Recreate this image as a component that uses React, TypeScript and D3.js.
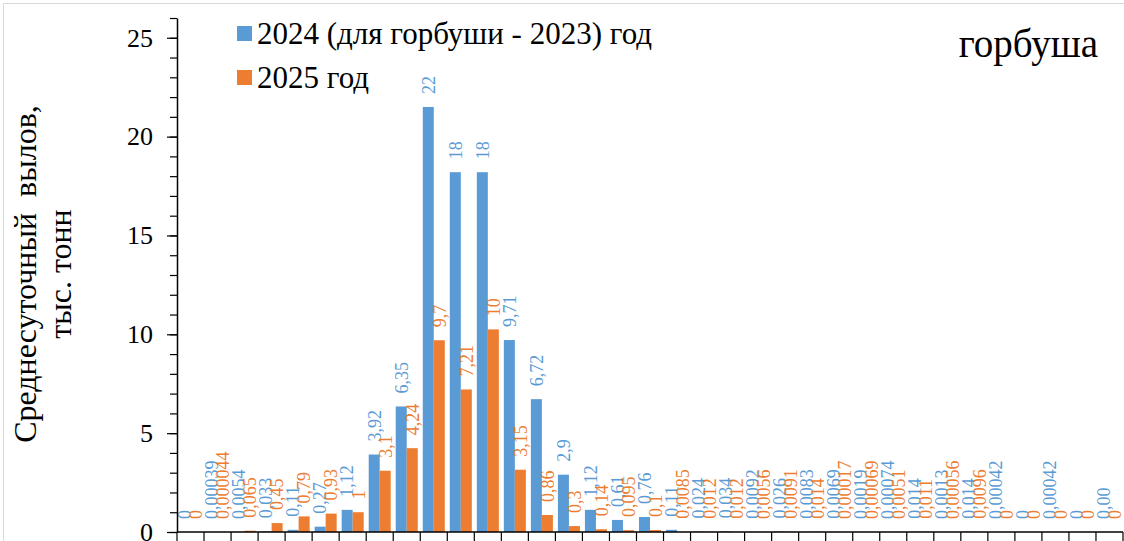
import React, { useEffect, useRef } from 'react';
import * as d3 from 'd3';

const categories = ['1', '2', '3', '4', '5', '6', '7', '8', '9', '10', '11', '12', '13', '14', '15', '16', '17', '18', '19', '20', '21', '22', '23', '24', '25', '26', '27', '28', '29', '30', '31', '32', '33', '34', '35'];

// 2024 (for pink salmon - 2023)
const values2024 = [0, 0.00039, 0.0054, 0.033, 0.11, 0.27, 1.12, 3.92, 6.35, 21.5, 18.2, 18.2, 9.71, 6.72, 2.9, 1.12, 0.61, 0.76, 0.11, 0.024, 0.034, 0.0092, 0.026, 0.0083, 0.0069, 0.0019, 0.00074, 0.014, 0.0013, 0.014, 0.00042, 0, 0.00042, 0, 0];
const labels2024 = ['0', '0,00039', '0,0054', '0,033', '0,11', '0,27', '1,12', '3,92', '6,35', '22', '18', '18', '9,71', '6,72', '2,9', '1,12', '0,61', '0,76', '0,11', '0,024', '0,034', '0,0092', '0,026', '0,0083', '0,0069', '0,0019', '0,00074', '0,014', '0,0013', '0,014', '0,00042', '0', '0,00042', '0', '0,00'];

const values2025 = [0, 0.000044, 0.065, 0.45, 0.79, 0.93, 1, 3.1, 4.24, 9.7, 7.21, 10.25, 3.15, 0.86, 0.3, 0.14, 0.095, 0.1, 0.0085, 0.012, 0.012, 0.0056, 0.0091, 0.014, 0.00017, 0.00069, 0.0051, 0.011, 0.00056, 0.0096, 0, 0, 0, 0, 0];
const labels2025 = ['0', '0,000044', '0,065', '0,45', '0,79', '0,93', '1', '3,1', '4,24', '9,7', '7,21', '10', '3,15', '0,86', '0,3', '0,14', '0,095', '0,1', '0,0085', '0,012', '0,012', '0,0056', '0,0091', '0,014', '0,00017', '0,00069', '0,0051', '0,011', '0,00056', '0,0096', '0', '0', '0', '0', '0'];

const seriesNames = ['2024 (для горбуши - 2023) год', '2025 год'];
const seriesColors = ['#5B9BD5', '#ED7D31'];
const yMajorTicks = [0, 5, 10, 15, 20, 25];

const FONT = '"Liberation Serif", "Times New Roman", serif';

export default function App() {
  const svgRef = useRef<SVGSVGElement | null>(null);

  useEffect(() => {
    if (!svgRef.current) return;
    const svg = d3.select(svgRef.current);
    svg.selectAll('*').remove();

    const left = 177;
    const right = 1123;
    const bottom = 532;
    const top = 18;

    const y = d3.scaleLinear().domain([0, 26]).range([bottom, top]);
    const x0 = d3.scaleBand<string>()
      .domain(categories)
      .range([left, right])
      .paddingInner(0.185)
      .paddingOuter(0.0925);
    const x1 = d3.scaleBand<number>().domain([0, 1]).range([0, x0.bandwidth()]);

    // chart border
    svg.append('rect')
      .attr('x', 3.5).attr('y', 3.5)
      .attr('width', 1300).attr('height', 700)
      .attr('fill', 'none')
      .attr('stroke', '#d9d9d9');

    const series = [
      { values: values2024, labels: labels2024 },
      { values: values2025, labels: labels2025 },
    ];

    // bars
    series.forEach((s, si) => {
      svg.append('g')
        .selectAll('rect')
        .data(s.values)
        .join('rect')
        .attr('x', (_, i) => (x0(categories[i]) as number) + (x1(si) as number))
        .attr('y', (d) => y(d))
        .attr('width', x1.bandwidth())
        .attr('height', (d) => bottom - y(d))
        .attr('fill', seriesColors[si]);
    });

    // data labels
    series.forEach((s, si) => {
      svg.append('g')
        .selectAll('text')
        .data(s.values)
        .join('text')
        .attr('transform', (d, i) => {
          const cx = (x0(categories[i]) as number) + (x1(si) as number) + x1.bandwidth() / 2;
          const ly = Math.min(y(d), y(0)) - 13;
          return `translate(${cx},${ly}) rotate(-90)`;
        })
        .attr('dy', '0.35em')
        .attr('text-anchor', 'start')
        .attr('font-family', FONT)
        .attr('font-size', 18)
        .attr('fill', seriesColors[si])
        .text((_, i) => s.labels[i]);
    });

    // y axis minor ticks
    svg.append('g')
      .attr('transform', `translate(${left},0)`)
      .call(d3.axisLeft(y).tickValues(d3.range(0, 27)).tickSize(7).tickSizeOuter(0).tickFormat(() => ''))
      .call((g) => g.select('.domain').remove())
      .selectAll('line').attr('stroke', '#000').attr('stroke-width', 1.2);

    // y axis major
    const yAxis = svg.append('g')
      .attr('transform', `translate(${left},0)`)
      .call(d3.axisLeft(y).tickValues(yMajorTicks).tickSize(10).tickSizeOuter(0).tickPadding(14).tickFormat((d) => String(d)));
    yAxis.select('.domain').attr('stroke', '#000').attr('stroke-width', 1.5);
    yAxis.selectAll('line').attr('stroke', '#000').attr('stroke-width', 1.2);
    yAxis.selectAll('text')
      .attr('font-family', FONT)
      .attr('font-size', 26)
      .attr('fill', '#000');

    // x axis
    const gap = (x0.step() - x0.bandwidth()) / 2;
    const tickXs = categories.map((c) => (x0(c) as number) - gap).concat([right]);
    svg.append('line')
      .attr('x1', left).attr('x2', right)
      .attr('y1', bottom).attr('y2', bottom)
      .attr('stroke', '#000').attr('stroke-width', 1.5);
    svg.append('g')
      .selectAll('line')
      .data(tickXs)
      .join('line')
      .attr('x1', (d) => d).attr('x2', (d) => d)
      .attr('y1', bottom).attr('y2', bottom + 9)
      .attr('stroke', '#000').attr('stroke-width', 1.2);

    // y title
    const yTitle = [
      { text: 'Среднесуточный  вылов,', x: 36 },
      { text: 'тыс. тонн', x: 71 },
    ];
    yTitle.forEach((t) => {
      svg.append('text')
        .attr('transform', `translate(${t.x},274) rotate(-90)`)
        .attr('text-anchor', 'middle')
        .attr('font-family', FONT)
        .attr('font-size', 32)
        .style('white-space', 'pre')
        .attr('fill', '#000')
        .text(t.text);
    });

    // legend
    seriesNames.forEach((name, i) => {
      const cy = 33.5 + i * 44;
      svg.append('rect')
        .attr('x', 237).attr('y', cy - 7.5)
        .attr('width', 15).attr('height', 15)
        .attr('fill', seriesColors[i]);
      svg.append('text')
        .attr('x', 257).attr('y', cy + 10.5)
        .attr('font-family', FONT)
        .attr('font-size', 31)
        .attr('fill', '#000')
        .text(name);
    });

    // title
    svg.append('text')
      .attr('x', 1098).attr('y', 57)
      .attr('text-anchor', 'end')
      .attr('font-family', FONT)
      .attr('font-size', 39)
      .attr('fill', '#000')
      .text('горбуша');
  }, []);

  return (
    <svg
      ref={svgRef}
      width={1124}
      height={541}
      style={{ position: 'absolute', left: 0, top: 0, background: '#fff' }}
    />
  );
}
